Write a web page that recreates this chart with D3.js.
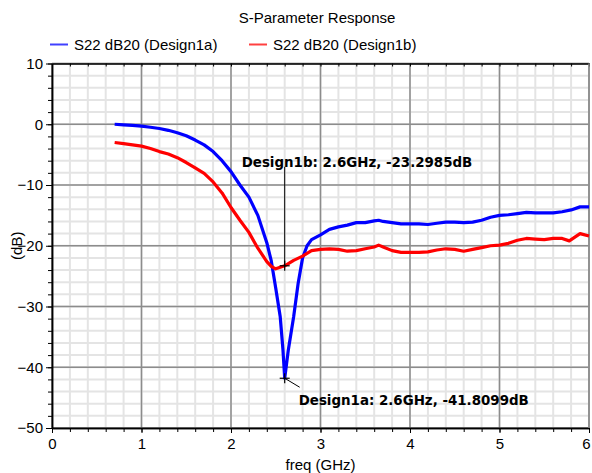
<!DOCTYPE html>
<html>
<head>
<meta charset="utf-8">
<script src="https://cdn.jsdelivr.net/npm/d3@7"></script>
<style>
  html, body { margin: 0; padding: 0; background: #ffffff; }
  svg { display: block; font-family: "Liberation Sans", Arial, sans-serif; }
</style>
</head>
<body>
<svg id="chart" width="592" height="473"></svg>
<script>
// S22 (dB20) sweep for the two designs, frequency in GHz
const freqA = [0.7, 0.8, 0.9, 1.0, 1.1, 1.2, 1.3, 1.4, 1.5, 1.6, 1.7, 1.8, 1.9, 2.0, 2.1, 2.2, 2.3, 2.4, 2.45, 2.5, 2.55, 2.58, 2.6, 2.64, 2.7, 2.75, 2.8, 2.85, 2.9, 3.0, 3.1, 3.2, 3.3, 3.4, 3.5, 3.6, 3.65, 3.7, 3.8, 3.9, 4.0, 4.1, 4.2, 4.3, 4.4, 4.5, 4.6, 4.7, 4.8, 4.9, 5.0, 5.1, 5.2, 5.3, 5.4, 5.5, 5.6, 5.7, 5.8, 5.9, 6.0];
const s22A = [0.0, -0.1, -0.2, -0.3, -0.5, -0.7, -1.0, -1.4, -1.9, -2.6, -3.4, -4.5, -6.0, -7.8, -10.0, -12.0, -15.0, -19.5, -22.5, -27.0, -31.7, -37.0, -41.8099, -37.2, -31.7, -26.2, -22.0, -20.0, -19.0, -18.2, -17.3, -16.9, -16.6, -16.2, -16.2, -15.9, -15.8, -16.0, -16.2, -16.4, -16.4, -16.4, -16.5, -16.3, -16.1, -16.1, -16.2, -16.1, -15.8, -15.3, -15.0, -14.9, -14.7, -14.5, -14.6, -14.6, -14.6, -14.4, -14.1, -13.6, -13.6];

const freqB = [0.7, 0.8, 0.9, 1.0, 1.1, 1.2, 1.3, 1.4, 1.5, 1.6, 1.7, 1.8, 1.9, 2.0, 2.1, 2.2, 2.3, 2.4, 2.45, 2.5, 2.6, 2.7, 2.8, 2.9, 3.0, 3.1, 3.2, 3.3, 3.4, 3.5, 3.6, 3.65, 3.7, 3.8, 3.9, 4.0, 4.1, 4.2, 4.3, 4.4, 4.5, 4.6, 4.7, 4.8, 4.9, 5.0, 5.1, 5.2, 5.3, 5.4, 5.5, 5.6, 5.7, 5.78, 5.9, 6.0];
const s22B = [-3.0, -3.2, -3.4, -3.6, -4.0, -4.5, -4.9, -5.5, -6.3, -7.2, -8.1, -9.5, -11.3, -13.7, -15.8, -17.8, -20.4, -22.6, -23.4, -23.8, -23.2985, -22.4, -21.7, -20.8, -20.6, -20.5, -20.6, -20.9, -20.8, -20.5, -20.2, -19.9, -20.2, -20.8, -21.1, -21.1, -21.1, -21.0, -20.7, -20.5, -20.6, -20.9, -20.6, -20.3, -20.0, -19.9, -19.6, -19.1, -18.8, -18.9, -19.0, -18.8, -18.8, -19.2, -18.0, -18.4];

const seriesNames = ["S22 dB20 (Design1a)", "S22 dB20 (Design1b)"];
const seriesColors = ["#0000ff", "#ff0000"];

const xTicks = [0, 1, 2, 3, 4, 5, 6];
const yTicks = [10, 0, -10, -20, -30, -40, -50];

// Marker readouts
const markerFreq = [2.6, 2.6];
const markerDb = [-41.8099, -23.2985];
const markerLabels = ["Design1a: 2.6GHz, -41.8099dB", "Design1b: 2.6GHz, -23.2985dB"];

const titleText = "S-Parameter Response";
const xLabel = "freq (GHz)";
const yLabel = "(dB)";

const svg = d3.select("#chart");
const plot = { left: 52, right: 589, top: 63.5, bottom: 428 };

const x = d3.scaleLinear().domain([0, 6]).range([plot.left, plot.right]);
const y = d3.scaleLinear().domain([-50, 10]).range([plot.bottom, plot.top]);

const textFont = "Liberation Sans, Arial, sans-serif";
const textSize = 15;
const markerFont = "DejaVu Sans, Verdana, sans-serif";
const markerSize = 13.4;

// Grid: minor every 0.2 GHz / 2 dB, major every 1 GHz / 10 dB
const xMinor = d3.range(0, 6.0001, 0.2);
const yMinor = d3.range(-50, 10.0001, 2);
const grid = svg.append("g");
grid.selectAll(".vminor").data(xMinor).join("line")
  .attr("x1", d => x(d)).attr("x2", d => x(d))
  .attr("y1", plot.top).attr("y2", plot.bottom)
  .attr("stroke", "#e4e4e4").attr("stroke-width", 2);
grid.selectAll(".hminor").data(yMinor).join("line")
  .attr("x1", plot.left).attr("x2", plot.right)
  .attr("y1", d => y(d)).attr("y2", d => y(d))
  .attr("stroke", "#e4e4e4").attr("stroke-width", 2);
grid.selectAll(".vmajor").data(xTicks).join("line")
  .attr("x1", d => x(d)).attr("x2", d => x(d))
  .attr("y1", plot.top).attr("y2", plot.bottom)
  .attr("stroke", "#8c8c8c").attr("stroke-width", 1.5);
grid.selectAll(".hmajor").data(yTicks).join("line")
  .attr("x1", plot.left).attr("x2", plot.right)
  .attr("y1", d => y(d)).attr("y2", d => y(d))
  .attr("stroke", "#8c8c8c").attr("stroke-width", 1.5);

// Axes
const xAxis = svg.append("g")
  .attr("transform", `translate(0,${plot.bottom})`)
  .call(d3.axisBottom(x).tickValues(xTicks).tickFormat(d3.format("d")).tickSize(5).tickSizeOuter(0));
svg.append("g")
  .attr("transform", `translate(0,${plot.bottom})`)
  .call(d3.axisBottom(x).tickValues(xMinor).tickFormat("").tickSize(4).tickSizeOuter(0));
const yAxis = svg.append("g")
  .attr("transform", `translate(${plot.left},0)`)
  .call(d3.axisLeft(y).tickValues(yTicks).tickFormat(d3.format("d")).tickSize(6).tickSizeOuter(0));
svg.append("g")
  .attr("transform", `translate(${plot.left},0)`)
  .call(d3.axisLeft(y).tickValues(yMinor).tickFormat("").tickSize(4).tickSizeOuter(0));
svg.append("g")
  .attr("transform", `translate(0,${plot.top})`)
  .call(d3.axisTop(x).tickValues(xMinor).tickFormat("").tickSize(-3).tickSizeOuter(0));

svg.selectAll(".domain").attr("stroke", "#000").attr("stroke-width", 1.5);
svg.selectAll(".tick line").attr("stroke", "#000");
xAxis.selectAll("text").attr("font-size", textSize).attr("font-family", textFont).attr("fill", "#000").attr("dy", "0.85em");
// keep the last frequency label inside the canvas edge
xAxis.selectAll(".tick").filter(d => d === 6).select("text").attr("text-anchor", "end").attr("dx", "1px");
yAxis.selectAll("text").attr("font-size", textSize).attr("font-family", textFont).attr("fill", "#000");

// Right border
svg.append("line")
  .attr("x1", plot.right).attr("x2", plot.right)
  .attr("y1", plot.top).attr("y2", plot.bottom)
  .attr("stroke", "#8c8c8c").attr("stroke-width", 1.5);

// Curves
const line = d3.line().x(d => x(d[0])).y(d => y(d[1]));
const curves = [d3.zip(freqA, s22A), d3.zip(freqB, s22B)];
svg.selectAll(".curve").data(curves).join("path")
  .attr("d", line)
  .attr("fill", "none")
  .attr("stroke", (d, i) => seriesColors[i])
  .attr("stroke-width", 3.2)
  .attr("stroke-linejoin", "round");

// Marker crosses
const cross = 5;
markerFreq.forEach((f, i) => {
  const mx = x(f), my = y(markerDb[i]);
  svg.append("line").attr("x1", mx - cross).attr("x2", mx + cross).attr("y1", my).attr("y2", my).attr("stroke", "#000").attr("stroke-width", 1.2);
  svg.append("line").attr("x1", mx).attr("x2", mx).attr("y1", my - cross).attr("y2", my + cross).attr("stroke", "#000").attr("stroke-width", 1.2);
});

// Design1a readout: short leader down-right, text below
{
  const mx = x(markerFreq[0]), my = y(markerDb[0]);
  svg.append("line").attr("x1", mx).attr("y1", my).attr("x2", mx + 15).attr("y2", my + 9)
    .attr("stroke", "#000").attr("stroke-width", 1);
  svg.append("text").attr("x", mx + 14).attr("y", my + 27)
    .attr("font-family", markerFont).attr("font-size", markerSize).attr("font-weight", "bold").attr("fill", "#000")
    .text(markerLabels[0]);
}
// Design1b readout: vertical leader up to text
{
  const mx = x(markerFreq[1]), my = y(markerDb[1]);
  svg.append("line").attr("x1", mx).attr("y1", my).attr("x2", mx).attr("y2", my - 99)
    .attr("stroke", "#000").attr("stroke-width", 1);
  svg.append("text").attr("x", mx - 43).attr("y", my - 99)
    .attr("font-family", markerFont).attr("font-size", markerSize).attr("font-weight", "bold").attr("fill", "#000")
    .text(markerLabels[1]);
}

// Title
svg.append("text").attr("x", 317).attr("y", 23).attr("text-anchor", "middle")
  .attr("font-family", textFont).attr("font-size", textSize).attr("fill", "#000").text(titleText);

// Legend
const legendX = [50, 249];
seriesNames.forEach((name, i) => {
  svg.append("line").attr("x1", legendX[i]).attr("x2", legendX[i] + 18)
    .attr("y1", 44.5).attr("y2", 44.5)
    .attr("stroke", seriesColors[i]).attr("stroke-width", 2).attr("stroke-opacity", 0.75);
  svg.append("text").attr("x", legendX[i] + 24).attr("y", 50)
    .attr("font-family", textFont).attr("font-size", textSize).attr("fill", "#000").text(name);
});

// Axis titles
svg.append("text").attr("x", (plot.left + plot.right) / 2).attr("y", 470).attr("text-anchor", "middle")
  .attr("font-family", textFont).attr("font-size", textSize).attr("fill", "#000").text(xLabel);
svg.append("text")
  .attr("transform", `translate(22,${(plot.top + plot.bottom) / 2}) rotate(-90)`)
  .attr("text-anchor", "middle").attr("font-family", textFont).attr("font-size", textSize).attr("fill", "#000").text(yLabel);
</script>
</body>
</html>
